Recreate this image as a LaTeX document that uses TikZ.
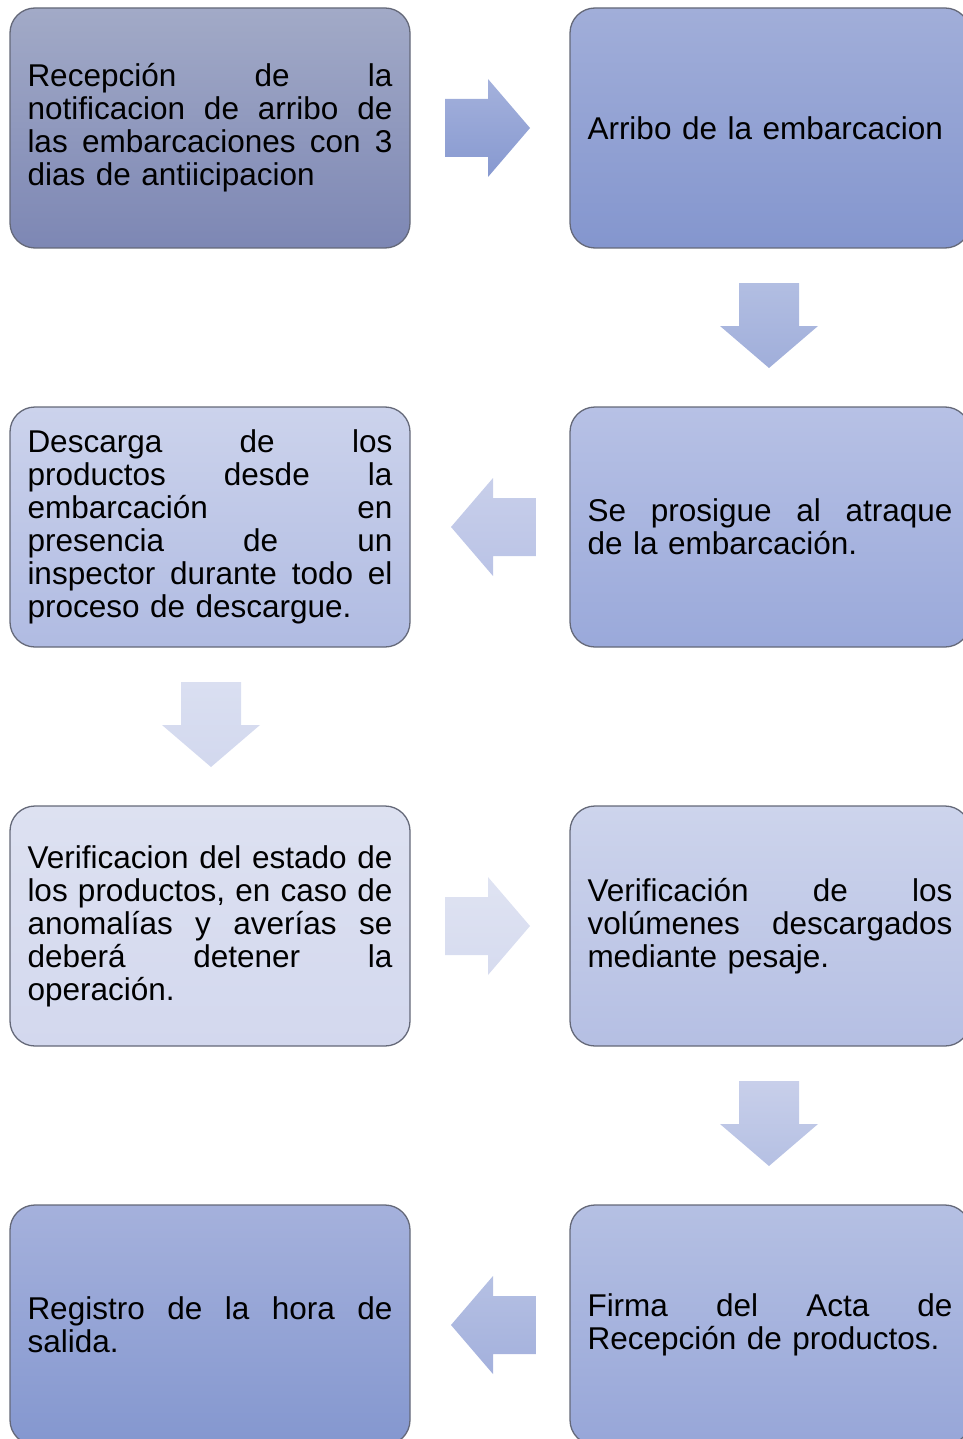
\documentclass[tikz,border=0pt]{standalone}
\usepackage{fontspec}
\setmainfont{Liberation Sans}
\usetikzlibrary{calc}
\definecolor{bordc}{HTML}{646878}
\definecolor{bAt}{HTML}{A2AAC7}\definecolor{bAb}{HTML}{7D87B4}
\definecolor{bBt}{HTML}{A1AED9}\definecolor{bBb}{HTML}{8496CE}
\definecolor{bCt}{HTML}{CCD3EC}\definecolor{bCb}{HTML}{B0BBE2}
\definecolor{bDt}{HTML}{B7C1E5}\definecolor{bDb}{HTML}{9AA9DA}
\definecolor{bEt}{HTML}{DDE1F1}\definecolor{bEb}{HTML}{D3D8EE}
\definecolor{bFt}{HTML}{CDD4EC}\definecolor{bFb}{HTML}{B5BFE3}
\definecolor{bGt}{HTML}{A5B1DC}\definecolor{bGb}{HTML}{8497CF}
\definecolor{bHt}{HTML}{B5C0E3}\definecolor{bHb}{HTML}{97A6D8}
\definecolor{a1t}{HTML}{A4B1DC}\definecolor{a1b}{HTML}{8799D0}
\definecolor{a2t}{HTML}{B2BEE2}\definecolor{a2b}{HTML}{A0AEDA}
\definecolor{a3t}{HTML}{C8CFEA}\definecolor{a3b}{HTML}{BAC3E6}
\definecolor{a4t}{HTML}{DADFF1}\definecolor{a4b}{HTML}{D2D8EE}
\definecolor{a5t}{HTML}{DFE3F2}\definecolor{a5b}{HTML}{D6DBEF}
\definecolor{a6t}{HTML}{C8CFEA}\definecolor{a6b}{HTML}{B5C0E3}
\definecolor{a7t}{HTML}{B5C0E3}\definecolor{a7b}{HTML}{A3B0DC}
\newcommand\wsp{\hspace{0.278em plus 1fil}}
\newcommand\jl[1]{\leavevmode\hbox to 365pt{#1}}
\begin{document}
\begin{tikzpicture}[x=1pt,y=-1pt,
  box/.style={draw=bordc, line width=1.3pt, rounded corners=25pt,
    minimum width=400pt, minimum height=240pt, text width=365pt,
    inner xsep=17.5pt, inner ysep=0pt, align=left,
    font=\fontsize{31.5}{33}\selectfont},
  rarr/.pic={\path[pic actions] (-43,-29) -- (0,-29) -- (0,-49) -- (42,0) -- (0,49) -- (0,29) -- (-43,29) -- cycle;},
  larr/.pic={\path[pic actions] (43,-29) -- (0,-29) -- (0,-49) -- (-42,0) -- (0,49) -- (0,29) -- (43,29) -- cycle;},
  darr/.pic={\path[pic actions] (-30,-43) -- (-30,0) -- (-49,0) -- (0,42) -- (49,0) -- (30,0) -- (30,-43) -- cycle;}
]
\useasboundingbox (0,0) rectangle (962,1439);
\node[box, top color=bAt, bottom color=bAb] (b1) at (210,128)
  {\jl{Recepción\wsp de\wsp la}\\\jl{notificacion\wsp de\wsp arribo\wsp de}\\\jl{las\wsp embarcaciones\wsp con\wsp 3}\\dias de antiicipacion};
\node[box, top color=bBt, bottom color=bBb] (b2) at (770,128)
  {Arribo de la embarcacion};
\node[box, top color=bDt, bottom color=bDb] (b4) at (770,527)
  {\jl{Se\wsp prosigue\wsp al\wsp atraque}\\de la embarcación.};
\node[box, top color=bCt, bottom color=bCb] (b3) at (210,527)
  {\jl{Descarga\wsp de\wsp los}\\\jl{productos\wsp desde\wsp la}\\\jl{embarcación\wsp en}\\\jl{presencia\wsp de\wsp un}\\\jl{inspector\wsp durante\wsp todo\wsp el}\\proceso de descargue.};
\node[box, top color=bEt, bottom color=bEb] (b5) at (210,926)
  {\jl{Verificacion\wsp del\wsp estado\wsp de}\\\jl{los\wsp productos,\wsp en\wsp caso\wsp de}\\\jl{anomalías\wsp y\wsp averías\wsp se}\\\jl{deberá\wsp detener\wsp la}\\operación.};
\node[box, top color=bFt, bottom color=bFb] (b6) at (770,926)
  {\jl{Verificación\wsp de\wsp los}\\\jl{volúmenes\wsp descargados}\\mediante pesaje.};
\node[box, top color=bHt, bottom color=bHb] (b8) at (770,1325)
  {\jl{Firma\wsp del\wsp Acta\wsp de}\\Recepción de productos.};
\node[box, top color=bGt, bottom color=bGb] (b7) at (210,1325)
  {\jl{Registro\wsp de\wsp la\wsp hora\wsp de}\\salida.};
\pic[top color=a1t, bottom color=a1b] at ($(b1.east)!0.5!(b2.west)+(-2,0)$) {rarr};
\pic[top color=a2t, bottom color=a2b] at ($(b2.south)!0.5!(b4.north)+(-1,-1.5)$) {darr};
\pic[top color=a3t, bottom color=a3b] at ($(b4.west)!0.5!(b3.east)+(3,0)$) {larr};
\pic[top color=a4t, bottom color=a4b] at ($(b3.south)!0.5!(b5.north)+(1,-1.5)$) {darr};
\pic[top color=a5t, bottom color=a5b] at ($(b5.east)!0.5!(b6.west)+(-2,0)$) {rarr};
\pic[top color=a6t, bottom color=a6b] at ($(b6.south)!0.5!(b8.north)+(-1,-1.5)$) {darr};
\pic[top color=a7t, bottom color=a7b] at ($(b8.west)!0.5!(b7.east)+(3,0)$) {larr};
\end{tikzpicture}
\end{document}
